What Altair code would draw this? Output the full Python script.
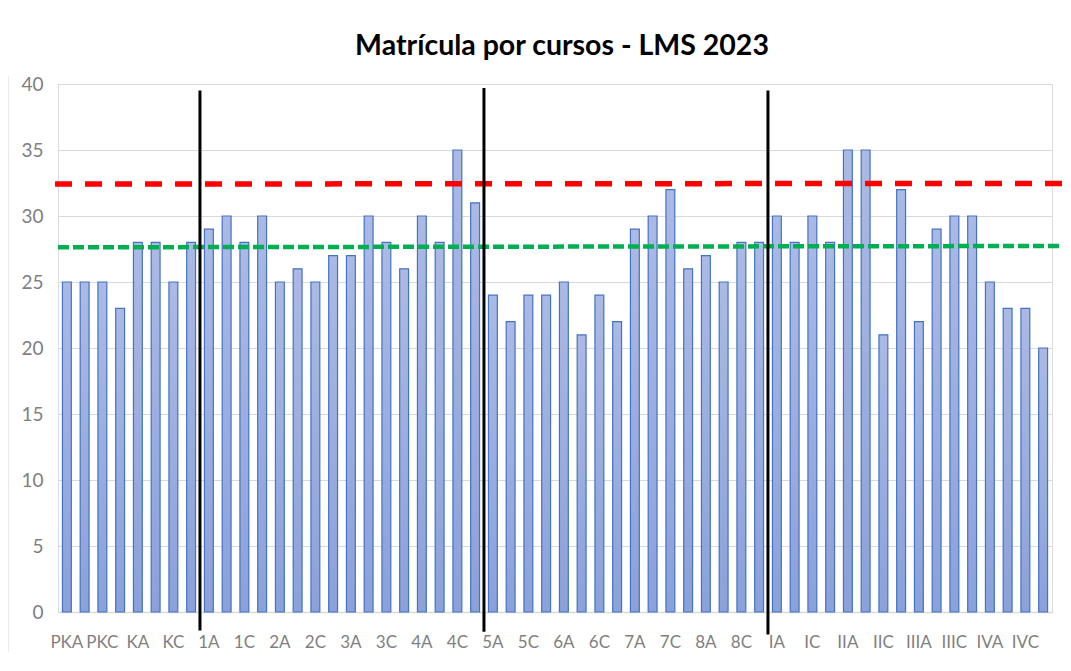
import altair as alt
import pandas as pd

cursos = ["PKA", "PKB", "PKC", "PKD", "KA", "KB", "KC", "KD",
          "1A", "1B", "1C", "1D", "2A", "2B", "2C", "2D",
          "3A", "3B", "3C", "3D", "4A", "4B", "4C", "4D",
          "5A", "5B", "5C", "5D", "6A", "6B", "6C", "6D",
          "7A", "7B", "7C", "7D", "8A", "8B", "8C", "8D",
          "IA", "IB", "IC", "ID", "IIA", "IIB", "IIC", "IID",
          "IIIA", "IIIB", "IIIC", "IIID", "IVA", "IVB", "IVC", "IVD"]
matricula = [25, 25, 25, 23, 28, 28, 25, 28,
             29, 30, 28, 30, 25, 26, 25, 27,
             27, 30, 28, 26, 30, 28, 35, 31,
             24, 22, 24, 24, 25, 21, 24, 22,
             29, 30, 32, 26, 27, 25, 28, 28,
             30, 28, 30, 28, 35, 35, 21, 32,
             22, 29, 30, 30, 25, 23, 23, 20]

# divisiones (línea vertical tras estos cursos)
div_curso = ["KD", "4D", "8D"]
div_top = [39.5, 39.7, 39.5]
div_bottom = [-1.4, -1.5, -1.7]

# líneas de referencia (inicio, fin)
ref_nombre = ["max", "prom"]
ref_ini = [32.42, 27.63]
ref_fin = [32.47, 27.73]

df = pd.DataFrame({"curso": cursos, "matricula": matricula})
df_div = pd.DataFrame({"curso": div_curso, "top": div_top, "bottom": div_bottom})
df_ref = pd.DataFrame({"nombre": ref_nombre, "ini": ref_ini, "fin": ref_fin})

FONT = "Lato, sans-serif"

x_enc = alt.X("curso:N", sort=cursos,
              scale=alt.Scale(domain=cursos, paddingInner=0.5, paddingOuter=0.25),
              axis=alt.Axis(values=cursos[::2], labelAngle=0, ticks=False,
                            domainColor="#d9d9d9", domainWidth=1.5, labelPadding=22,
                            labelFont=FONT, labelFontSize=17, labelColor="#7f7f7f",
                            title=None, grid=False))
y_scale = alt.Scale(domain=[0, 40], nice=False)

bars = alt.Chart(df).mark_bar(
    color=alt.Gradient(gradient="linear",
                       stops=[alt.GradientStop(color="#abbae4", offset=0),
                              alt.GradientStop(color="#8aa1da", offset=1)],
                       x1=0, x2=0, y1=0, y2=1),
    stroke="#4472c4", strokeWidth=1.2
).encode(
    x=x_enc,
    y=alt.Y("matricula:Q", scale=y_scale,
            axis=alt.Axis(values=list(range(0, 41, 5)), ticks=False, domain=False,
                          gridColor="#d9d9d9", gridWidth=1.2, labelPadding=15,
                          labelFont=FONT, labelFontSize=19, labelColor="#7f7f7f",
                          title=None))
)

red = alt.Chart(df_ref).transform_filter(alt.datum.nombre == "max").mark_rule(
    color="#ff0000", strokeWidth=5.5, strokeDash=[17, 13], strokeCap="butt"
).encode(x=alt.value(-3), x2=alt.value(1010), y=alt.Y("ini:Q", scale=y_scale), y2="fin:Q")

green = alt.Chart(df_ref).transform_filter(alt.datum.nombre == "prom").mark_rule(
    color="#00b050", strokeWidth=4.5, strokeDash=[11, 4], strokeCap="butt"
).encode(x=alt.value(0), x2=alt.value(1012), y=alt.Y("ini:Q", scale=y_scale), y2="fin:Q")

divs = alt.Chart(df_div).mark_rule(color="#000000", strokeWidth=3, xOffset=4.4).encode(
    x=alt.X("curso:N", sort=cursos, bandPosition=1),
    y=alt.Y("top:Q", scale=y_scale),
    y2="bottom:Q"
)

border = alt.Chart(alt.Data(values=[{"a": 1}])).mark_rule(color="#e3e3e3", strokeWidth=1.5).encode(
    x=alt.value(-50), y=alt.value(-8), y2=alt.value(570)
)

chart = alt.layer(border, bars, red, green, divs).properties(
    width=994, height=528,
    title=alt.TitleParams("Matrícula por cursos - LMS 2023", font=FONT, fontSize=28.5,
                          fontWeight="bold", color="#000000", anchor="middle",
                          frame="group", baseline="alphabetic", offset=20, dx=7, dy=28),
    autosize=alt.AutoSizeParams(type="none"),
    padding={"left": 50, "top": 76, "right": 11, "bottom": 40}
).configure_view(stroke=None).configure(background="white")

chart.save("out.html", embed_options={"renderer": "svg", "actions": False})
